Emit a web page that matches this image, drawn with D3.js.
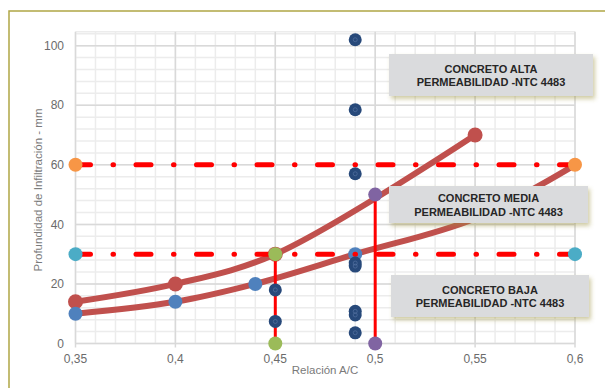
<!DOCTYPE html>
<html>
<head>
<meta charset="utf-8">
<script src="https://cdn.jsdelivr.net/npm/d3@7/dist/d3.min.js"></script>
<style>
  html, body { margin: 0; padding: 0; background: #ffffff; }
  svg { display: block; font-family: "Liberation Sans", Arial, sans-serif; }
</style>
</head>
<body>
<svg id="chart" width="605" height="388"></svg>
<script>
// ---- data ----
const xTicks = [0.35, 0.4, 0.45, 0.5, 0.55, 0.6];
const xTickLabels = ["0,35", "0,4", "0,45", "0,5", "0,55", "0,6"];
const yTicks = [0, 20, 40, 60, 80, 100];
const yTickLabels = ["0", "20", "40", "60", "80", "100"];

// upper trend curve (red markers)
const upperX = [0.35, 0.4, 0.45, 0.55];
const upperY = [14, 20, 30, 70];

// lower trend curve
const lowerX = [0.35, 0.4, 0.44, 0.49, 0.55, 0.6];
const lowerY = [10, 14, 20, 30, 42, 60];
// measured points sitting on the lower curve (blue markers)
const lowerPtsX = [0.35, 0.4, 0.44, 0.49];
const lowerPtsY = [10, 14, 20, 30];

// permeability limits (dash-dot horizontals)
const limitLevels = [60, 30];
const limitFrom = 0.35;
const limitTo = 0.6;

// vertical references
const refX = [0.45, 0.5];
const refTop = [30, 50];

// individual test results
const sampleX = [0.49, 0.49, 0.49, 0.49, 0.49, 0.49, 0.49, 0.49, 0.45, 0.45];
const sampleY = [102, 78.5, 57, 27, 26, 10.8, 9.6, 3.6, 18, 7.4];

const boxLabels = [
  ["CONCRETO ALTA", "PERMEABILIDAD -NTC 4483"],
  ["CONCRETO MEDIA", "PERMEABILIDAD -NTC 4483"],
  ["CONCRETO BAJA", "PERMEABILIDAD -NTC 4483"]
];

// ---- layout ----
const svg = d3.select("#chart");
const x = d3.scaleLinear().domain([0.35, 0.6]).range([75.5, 575]);
const y = d3.scaleLinear().domain([0, 100]).range([343.5, 45.7]);
const yMax = 104.7;

const C = {
  brown: "#c0504d", blue: "#4f81bd", navy: "#27497a", red: "#ff0000",
  orange: "#f79646", cyan: "#4bacc6", green: "#9bbb59", purple: "#8064a2"
};

// drop shadow for the label boxes
const defs = svg.append("defs");
const f = defs.append("filter").attr("id", "shadow")
  .attr("x", "-10%").attr("y", "-20%").attr("width", "130%").attr("height", "160%");
f.append("feDropShadow").attr("dx", 2).attr("dy", 3).attr("stdDeviation", 2.2)
  .attr("flood-color", "#9a8f3a").attr("flood-opacity", 0.45);

// outer chart frame
svg.append("rect").attr("x", 9).attr("y", 11).attr("width", 700).attr("height", 500)
  .attr("fill", "none").attr("stroke", "#b0a646").attr("stroke-width", 1.5);

// ---- gridlines ----
const grid = svg.append("g");
const minorX = d3.range(0, 26).map(i => 0.35 + i * 0.01);
const minorY = d3.range(0, 27).map(i => i * 4);
grid.selectAll("line.mx").data(minorX).join("line")
  .attr("x1", d => x(d)).attr("x2", d => x(d))
  .attr("y1", y(0)).attr("y2", y(yMax))
  .attr("stroke", "#ececec").attr("stroke-width", 1.5);
grid.selectAll("line.my").data(minorY).join("line")
  .attr("x1", x(0.35)).attr("x2", x(0.6))
  .attr("y1", d => y(d)).attr("y2", d => y(d))
  .attr("stroke", "#ececec").attr("stroke-width", 1.5);
grid.append("line").attr("x1", x(0.35)).attr("x2", x(0.6))
  .attr("y1", y(yMax)).attr("y2", y(yMax))
  .attr("stroke", "#ececec").attr("stroke-width", 1.5);
grid.selectAll("line.Mx").data(xTicks).join("line")
  .attr("x1", d => x(d)).attr("x2", d => x(d))
  .attr("y1", y(0) + 4).attr("y2", y(yMax))
  .attr("stroke", "#d9d9d9").attr("stroke-width", 1.5);
grid.selectAll("line.My").data(yTicks).join("line")
  .attr("x1", x(0.35)).attr("x2", x(0.6))
  .attr("y1", d => y(d)).attr("y2", d => y(d))
  .attr("stroke", "#d9d9d9").attr("stroke-width", 1.5);

// ---- axes labels ----
svg.append("g").selectAll("text").data(yTicks).join("text")
  .attr("x", 64).attr("y", d => y(d) + 4.2)
  .attr("text-anchor", "end").attr("font-size", 12).attr("fill", "#6b6b6b")
  .text((d, i) => yTickLabels[i]);
svg.append("g").selectAll("text").data(xTicks).join("text")
  .attr("x", d => x(d)).attr("y", 363)
  .attr("text-anchor", "middle").attr("font-size", 12).attr("fill", "#6b6b6b")
  .text((d, i) => xTickLabels[i]);
svg.append("text").attr("x", 325).attr("y", 373.5)
  .attr("text-anchor", "middle").attr("font-size", 11.5).attr("fill", "#7a7a7a")
  .text("Relación A/C");
svg.append("text")
  .attr("transform", "translate(42,190) rotate(-90)")
  .attr("text-anchor", "middle").attr("font-size", 11.5).attr("fill", "#7a7a7a")
  .text("Profundidad de Infiltración - mm");

// ---- curves ----
const line = d3.line().x(d => x(d[0])).y(d => y(d[1])).curve(d3.curveCatmullRom.alpha(0.5));
const upper = upperX.map((v, i) => [v, upperY[i]]);
const lower = lowerX.map((v, i) => [v, lowerY[i]]);

svg.append("path").datum(lower).attr("d", line)
  .attr("fill", "none").attr("stroke", C.brown).attr("stroke-width", 6).attr("stroke-linecap", "round");
svg.append("path").datum(upper).attr("d", line)
  .attr("fill", "none").attr("stroke", C.brown).attr("stroke-width", 6).attr("stroke-linecap", "round");
svg.append("g").selectAll("circle").data(upper).join("circle")
  .attr("cx", d => x(d[0])).attr("cy", d => y(d[1])).attr("r", 7.5).attr("fill", C.brown);
svg.append("g").selectAll("circle").data(lowerPtsX.map((v, i) => [v, lowerPtsY[i]])).join("circle")
  .attr("cx", d => x(d[0])).attr("cy", d => y(d[1])).attr("r", 7).attr("fill", C.blue);

// ---- limit lines (dash-dot) ----
svg.append("g").selectAll("line").data(limitLevels).join("line")
  .attr("x1", x(limitFrom)).attr("x2", x(limitTo))
  .attr("y1", d => y(d)).attr("y2", d => y(d))
  .attr("stroke", C.red).attr("stroke-width", 5).attr("stroke-linecap", "round")
  .attr("stroke-dasharray", "15 22.5 0.5 22.5");

// ---- vertical references ----
svg.append("g").selectAll("line").data(refX).join("line")
  .attr("x1", d => x(d)).attr("x2", d => x(d))
  .attr("y1", y(0)).attr("y2", (d, i) => y(refTop[i]))
  .attr("stroke", C.red).attr("stroke-width", 3);

// ---- test results ----
const samples = sampleX.map((v, i) => [v, sampleY[i]]);
const sg = svg.append("g");
sg.selectAll("circle.s").data(samples).join("circle")
  .attr("cx", d => x(d[0])).attr("cy", d => y(d[1])).attr("r", 6.5).attr("fill", C.navy);
sg.selectAll("circle.i").data(samples).join("circle")
  .attr("cx", d => x(d[0])).attr("cy", d => y(d[1])).attr("r", 2)
  .attr("fill", "none").attr("stroke", "#5a77a6").attr("stroke-width", 0.6);

// ---- end markers ----
const ends = [];
limitLevels.forEach((lv, i) => {
  const col = i === 0 ? C.orange : C.cyan;
  ends.push([limitFrom, lv, col], [limitTo, lv, col]);
});
refX.forEach((rx, i) => {
  const col = i === 0 ? C.green : C.purple;
  ends.push([rx, 0, col], [rx, refTop[i], col]);
});
svg.append("g").selectAll("circle").data(ends).join("circle")
  .attr("cx", d => x(d[0])).attr("cy", d => y(d[1])).attr("r", 7).attr("fill", d => d[2]);

// ---- label boxes ----
const boxRects = [
  { x: 389, y: 54, w: 204, h: 42 },
  { x: 389, y: 186, w: 199, h: 37 },
  { x: 391, y: 275, w: 198, h: 42 }
];
const bg = svg.append("g").selectAll("g").data(boxLabels).join("g");
bg.append("rect")
  .attr("x", (d, i) => boxRects[i].x).attr("y", (d, i) => boxRects[i].y)
  .attr("width", (d, i) => boxRects[i].w).attr("height", (d, i) => boxRects[i].h)
  .attr("fill", "#dadbdd").attr("filter", "url(#shadow)");
bg.each(function (d, i) {
  const r = boxRects[i];
  const cx = r.x + r.w / 2;
  const cy = r.y + r.h / 2;
  d3.select(this).selectAll("text").data(d).join("text")
    .attr("x", cx).attr("y", (t, j) => cy - 2.5 + j * 13.5)
    .attr("text-anchor", "middle").attr("font-size", 11).attr("font-weight", "bold")
    .attr("fill", "#262626").text(t => t);
});
</script>
</body>
</html>
